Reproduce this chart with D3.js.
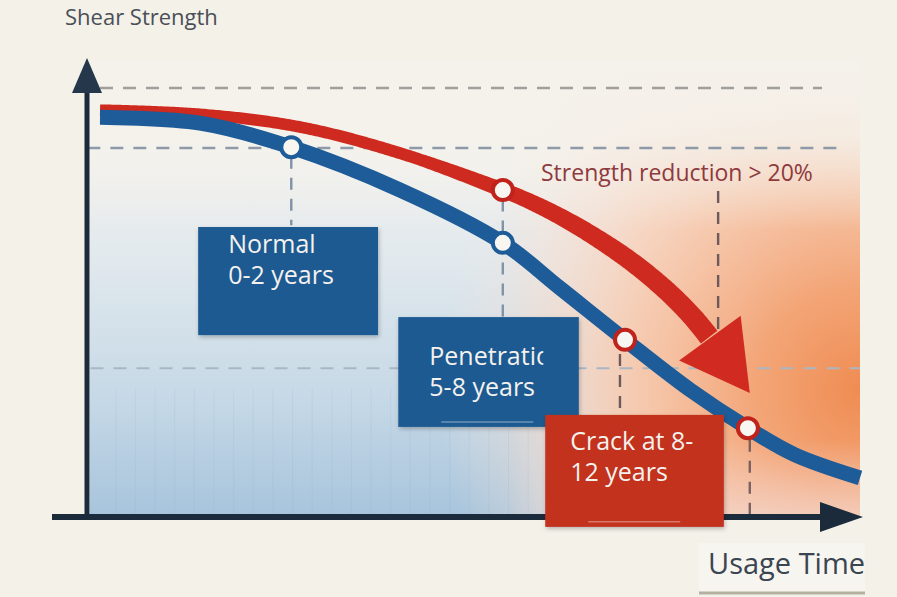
<!DOCTYPE html>
<html>
<head>
<meta charset="utf-8">
<script src="https://cdn.jsdelivr.net/npm/d3@7/dist/d3.min.js"></script>
<style>
  html, body { margin: 0; padding: 0; background: #f4f1e9; }
  svg { display: block; }
  text { font-family: "Open Sans", "Noto Sans", sans-serif; }
</style>
</head>
<body>
<svg id="chart" width="897" height="597"></svg>
<script>
// ---------------- DATA ----------------
// usage time (years) and relative shear strength (%)
const blueYears    = [0, 1.58, 3.02, 4.74, 6.36, 7.26, 8.29, 9.32, 10.23, 10.97, 12];
const blueStrength = [93.2, 91.8, 86.2, 76.2, 63.9, 53.4, 41.3, 29.6, 20.7, 14.5, 9.1];
const redYears     = [0, 1.58, 3.16, 4.74, 6.36, 6.84, 7.37, 7.89, 8.42, 8.95, 9.36, 9.63];
const redStrength  = [94.9, 93.9, 90.9, 84.8, 76.2, 73.2, 69.2, 64.6, 59.2, 52.7, 46.6, 41.7];
const redArrowTip  = [10.26, 28.9];

// milestone markers [year, strength, series]
const markerYears    = [3.02, 6.36, 6.36, 8.29, 10.23];
const markerStrength = [86.2, 63.9, 76.2, 41.3, 20.7];
const markerSeries   = ["blue", "blue", "red", "red", "red"];

// horizontal reference levels (strength %) and their year extents
const refLevels   = [100, 86, 34.7];
const refFrom     = [0, -0.2, -0.15];
const refTo       = [11.4, 11.75, 12];
// vertical guides [year, strength top, strength bottom]
const guideYears  = [3.02, 6.36, 8.21, 9.76, 10.26];
const guideTop    = [84, 74, 38, 76, 18];
const guideBottom = [68, 46, 0, 43, 0];

// stage boxes
const stageLabels = [["Normal", "0-2 years"], ["Penetration", "5-8 years"], ["Crack at 8-", "12 years"]];
const stageX0     = [1.55, 4.71, 7.03];
const stageX1     = [4.39, 7.56, 9.85];
const stageTop    = [67.6, 46.6, 23.8];
const stageBottom = [42.4, 21.0, -2.3];
const stageKind   = ["blue", "blue", "red"];

const yAxisTitle = "Shear Strength";
const xAxisTitle = "Usage Time";
const annotation = "Strength reduction > 20%";

// ---------------- CHART ----------------
const W = 897, H = 597;
const svg = d3.select("#chart");
const x = d3.scaleLinear().domain([0, 12]).range([100, 860]);
const y = d3.scaleLinear().domain([0, 100]).range([517, 88]);

const BLUE = "#1d5c98", RED = "#cf2a1f", AXIS = "#1c2b3b";

const defs = svg.append("defs");
const gB = defs.append("linearGradient").attr("id", "bgBlue")
  .attr("gradientUnits", "userSpaceOnUse").attr("x1", 0).attr("y1", 60).attr("x2", 0).attr("y2", 517);
[[0, "#f5f3ed"], [0.2, "#f1f1ee"], [0.45, "#e0e8ed"], [0.75, "#c5d8e6"], [1, "#a7c4dc"]]
  .forEach(s => gB.append("stop").attr("offset", s[0]).attr("stop-color", s[1]));

const gF = defs.append("linearGradient").attr("id", "fadeR")
  .attr("gradientUnits", "userSpaceOnUse").attr("x1", 510).attr("y1", 0).attr("x2", 650).attr("y2", 0);
gF.append("stop").attr("offset", 0).attr("stop-color", "#f6ebe4").attr("stop-opacity", 0);
gF.append("stop").attr("offset", 1).attr("stop-color", "#f6e6dc").attr("stop-opacity", 1);

const gO = defs.append("radialGradient").attr("id", "orange")
  .attr("gradientUnits", "userSpaceOnUse").attr("cx", 860).attr("cy", 390).attr("r", 420);
[[0, "#ef8c52", 1], [0.25, "#f3a272", 0.95], [0.55, "#f6c5a8", 0.8], [0.8, "#f6dccd", 0.45], [1, "#f7e6dc", 0]]
  .forEach(s => gO.append("stop").attr("offset", s[0]).attr("stop-color", s[1]).attr("stop-opacity", s[2]));

const gTop = defs.append("linearGradient").attr("id", "topFade")
  .attr("gradientUnits", "userSpaceOnUse").attr("x1", 0).attr("y1", 60).attr("x2", 0).attr("y2", 230);
gTop.append("stop").attr("offset", 0).attr("stop-color", "#f5f2eb").attr("stop-opacity", 1);
gTop.append("stop").attr("offset", 0.45).attr("stop-color", "#f5f2eb").attr("stop-opacity", 0.8);
gTop.append("stop").attr("offset", 1).attr("stop-color", "#f5f2eb").attr("stop-opacity", 0);

const gBot = defs.append("linearGradient").attr("id", "botPink")
  .attr("gradientUnits", "userSpaceOnUse").attr("x1", 0).attr("y1", 440).attr("x2", 0).attr("y2", 517);
gBot.append("stop").attr("offset", 0).attr("stop-color", "#f4d6cc").attr("stop-opacity", 0);
gBot.append("stop").attr("offset", 1).attr("stop-color", "#f3d8d0").attr("stop-opacity", 0.7);

// plot backgrounds
const px0 = 90, px1 = x(12), py0 = 60, py1 = y(0);
svg.append("rect").attr("x", px0).attr("y", py0).attr("width", px1 - px0).attr("height", py1 - py0).attr("fill", "url(#bgBlue)");
svg.append("rect").attr("x", px0).attr("y", py0).attr("width", px1 - px0).attr("height", py1 - py0).attr("fill", "url(#fadeR)");
svg.append("rect").attr("x", px0).attr("y", py0).attr("width", px1 - px0).attr("height", py1 - py0).attr("fill", "url(#orange)");
svg.append("rect").attr("x", 560).attr("y", 440).attr("width", px1 - 560).attr("height", 77).attr("fill", "url(#botPink)");
svg.append("rect").attr("x", px0).attr("y", py0).attr("width", px1 - px0).attr("height", 170).attr("fill", "url(#topFade)");

// faint vertical grid in blue region
const gridYears = d3.range(0.25, 7.2, 0.31);
svg.append("g").selectAll("line").data(gridYears).join("line")
  .attr("x1", d => x(d)).attr("x2", d => x(d)).attr("y1", y(30)).attr("y2", y(0))
  .attr("stroke", "#7fa6c6").attr("stroke-opacity", 0.12).attr("stroke-width", 1);

// horizontal dashed reference lines
const refColors = ["#a09f9b", "#8e9aa8", "#aab7c3"];
svg.append("g").selectAll("line").data(refLevels).join("line")
  .attr("x1", (d, i) => x(refFrom[i])).attr("x2", (d, i) => x(refTo[i]))
  .attr("y1", d => y(d)).attr("y2", d => y(d))
  .attr("stroke", (d, i) => refColors[i]).attr("stroke-width", (d, i) => i === 2 ? 2 : 2.6)
  .attr("stroke-dasharray", "13,10");

// vertical dashed guides
const guideColors = ["#8193a8", "#8193a8", "#6e5a5a", "#6e5a5a", "#7a6262"];
svg.append("g").selectAll("line").data(guideYears).join("line")
  .attr("x1", d => x(d)).attr("x2", d => x(d))
  .attr("y1", (d, i) => y(guideTop[i])).attr("y2", (d, i) => y(guideBottom[i]))
  .attr("stroke", (d, i) => guideColors[i]).attr("stroke-width", 2.4)
  .attr("stroke-dasharray", "12,9");

// axes
svg.append("line").attr("x1", 87).attr("x2", 87).attr("y1", y(0) + 2).attr("y2", 90)
  .attr("stroke", AXIS).attr("stroke-width", 5);
svg.append("path").attr("d", `M87,58 L102,93 L72,93 Z`).attr("fill", "#25374a");
svg.append("line").attr("x1", 52).attr("x2", 830).attr("y1", y(0)).attr("y2", y(0))
  .attr("stroke", AXIS).attr("stroke-width", 6);
svg.append("path").attr("d", `M863,${y(0)} L820,${y(0) - 15} L820,${y(0) + 15} Z`).attr("fill", AXIS);

// curves
const lineGen = d3.line().x(d => x(d[0])).y(d => y(d[1])).curve(d3.curveCatmullRom.alpha(0.5));
const bluePts = blueYears.map((v, i) => [v, blueStrength[i]]);
const redPts = redYears.map((v, i) => [v, redStrength[i]]);

// red tapered arrow: sample a hidden path, build variable-width polygon
const hidden = svg.append("path").attr("d", lineGen(redPts)).attr("fill", "none").attr("stroke", "none");
const node = hidden.node();
const L = node.getTotalLength();
const left = [], right = [];
const widthAt = d3.scaleLinear().domain([100, 420, 620, 720]).range([11, 12, 19, 21]).clamp(true);
for (let s = 0; s <= L; s += 2) {
  const p = node.getPointAtLength(s);
  const q = node.getPointAtLength(Math.min(L, s + 1));
  const p0 = node.getPointAtLength(Math.max(0, s - 1));
  let dx = q.x - p0.x, dy = q.y - p0.y;
  const n = Math.hypot(dx, dy) || 1; dx /= n; dy /= n;
  const w = widthAt(p.x);
  left.push([p.x - dy * w / 2, p.y + dx * w / 2]);
  right.push([p.x + dy * w / 2, p.y - dx * w / 2]);
}
hidden.remove();
svg.append("path")
  .attr("d", "M" + left.map(p => p.join(",")).join("L") + "L" + right.reverse().map(p => p.join(",")).join("L") + "Z")
  .attr("fill", RED);

// arrowhead
const end = redPts[redPts.length - 1];
const bx = x(end[0]), by = y(end[1]);
const tx = x(redArrowTip[0]), ty = y(redArrowTip[1]);
let ax = tx - bx, ay = ty - by; const al = Math.hypot(ax, ay); ax /= al; ay /= al;
const hw = 38;
svg.append("path")
  .attr("d", `M${tx},${ty} L${bx - ay * hw},${by + ax * hw} L${bx + ay * hw},${by - ax * hw} Z`)
  .attr("fill", "#d12a20");

// blue curve
svg.append("path").attr("d", lineGen(bluePts)).attr("fill", "none")
  .attr("stroke", BLUE).attr("stroke-width", 15);

// annotation
svg.append("text").attr("x", 541).attr("y", 181).attr("font-size", 23)
  .attr("fill", "#8e3a3e").text(annotation);

// stage boxes
const boxColors = { blue: "#1c5a91", red: "#c2301f" };
const textDx = [30, 31, 25], textDy = [26, 48, 35];
defs.append("filter").attr("id", "shadow").append("feDropShadow")
  .attr("dx", 1).attr("dy", 2).attr("stdDeviation", 2).attr("flood-opacity", 0.25);
stageLabels.forEach((lab, i) => {
  const bx0 = x(stageX0[i]), bx1 = x(stageX1[i]), by0 = y(stageTop[i]), by1 = y(stageBottom[i]);
  const g = svg.append("g");
  g.append("rect").attr("x", bx0).attr("y", by0).attr("width", bx1 - bx0).attr("height", by1 - by0)
    .attr("fill", boxColors[stageKind[i]]).attr("filter", "url(#shadow)");
  const cid = "clip" + i;
  defs.append("clipPath").attr("id", cid).append("rect")
    .attr("x", bx0).attr("y", by0).attr("width", i === 1 ? 145 : bx1 - bx0).attr("height", by1 - by0);
  const tg = g.append("g").attr("clip-path", `url(#${cid})`);
  lab.forEach((line, k) => {
    tg.append("text").attr("fill", "#f4f1ee").attr("font-size", 25)
      .attr("x", bx0 + textDx[i]).attr("y", by0 + textDy[i] + k * 31).text(line);
  });
  if (i > 0) {
    g.append("line").attr("x1", bx0 + 43).attr("x2", bx0 + 135).attr("y1", by1 - 5).attr("y2", by1 - 5)
      .attr("stroke", "#ffffff").attr("stroke-opacity", 0.35).attr("stroke-width", 1.5);
  }
});

// markers
const markerStroke = { blue: BLUE, red: "#c0221c" };
svg.append("g").selectAll("circle").data(markerYears).join("circle")
  .attr("cx", d => x(d)).attr("cy", (d, i) => y(markerStrength[i])).attr("r", 10)
  .attr("fill", "#f8f6f1").attr("stroke", (d, i) => markerStroke[markerSeries[i]]).attr("stroke-width", 4);

// titles
svg.append("text").attr("x", 65).attr("y", 25).attr("font-size", 22).attr("fill", "#4a4f57").text(yAxisTitle);
svg.append("rect").attr("x", 699).attr("y", 543).attr("width", 166).attr("height", 48).attr("fill", "#f7f5ef");
svg.append("text").attr("x", 708).attr("y", 574).attr("font-size", 29).attr("fill", "#3b4552").text(xAxisTitle);
svg.append("line").attr("x1", 699).attr("x2", 865).attr("y1", 593).attr("y2", 593)
  .attr("stroke", "#b3b1a1").attr("stroke-width", 3);
</script>
</body>
</html>
